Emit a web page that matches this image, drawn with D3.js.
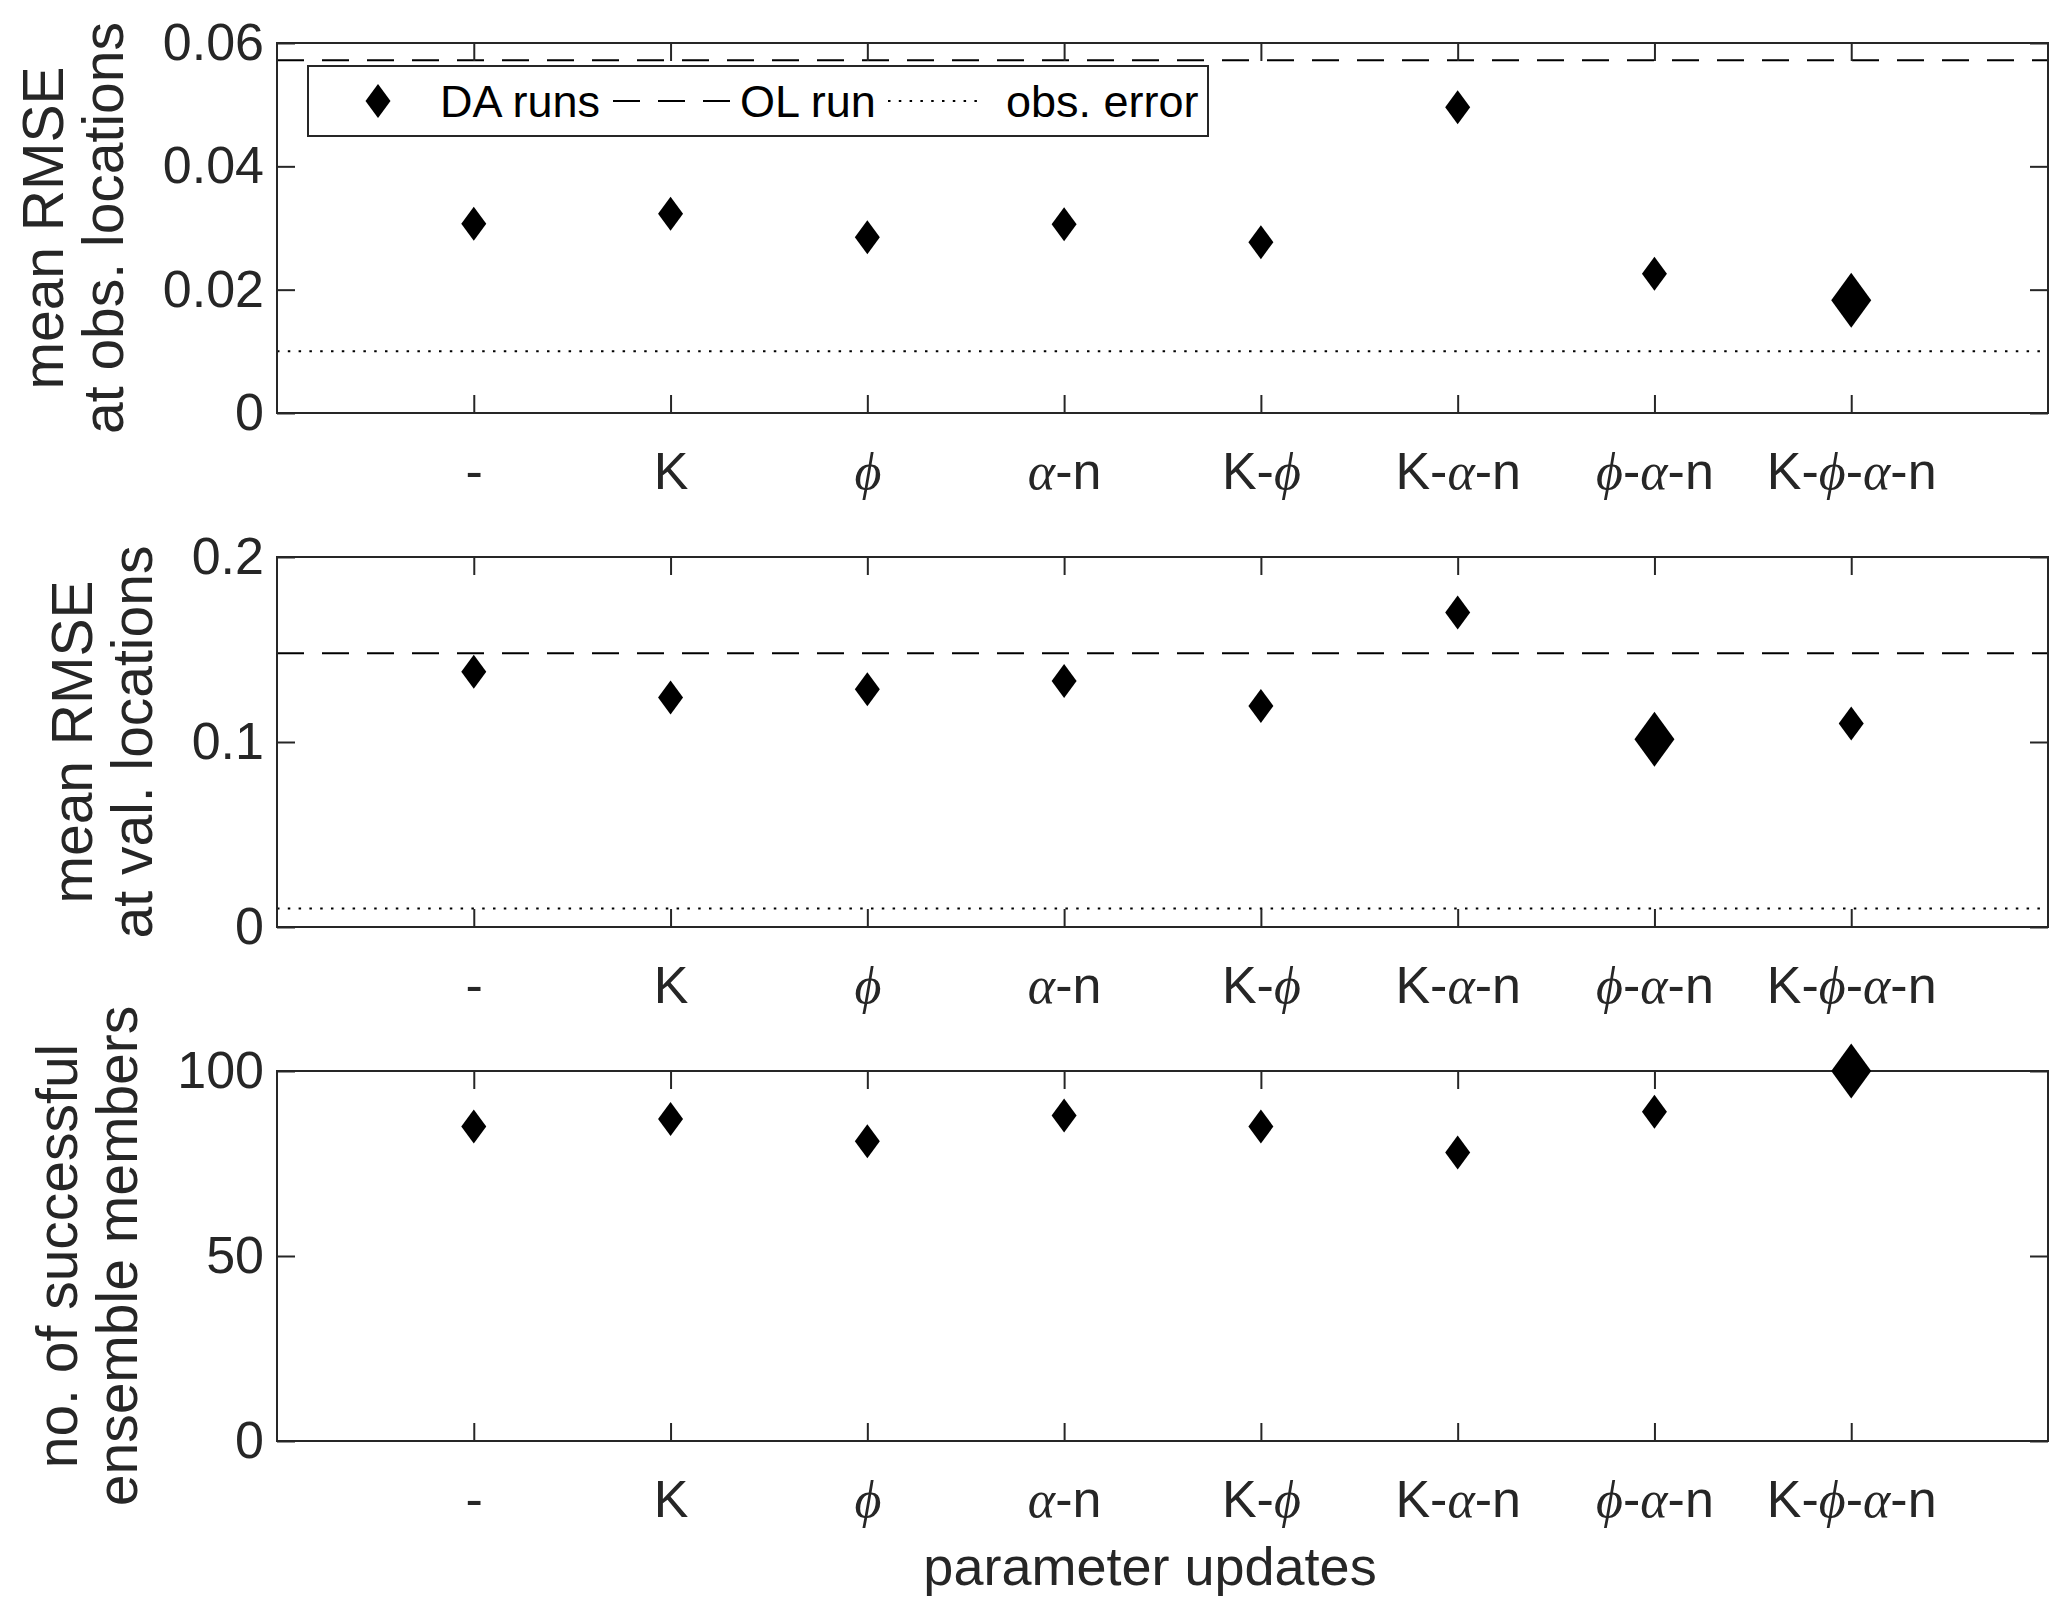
<!DOCTYPE html>
<html>
<head>
<meta charset="utf-8">
<script src="https://cdn.jsdelivr.net/npm/d3@7"></script>
<style>
  body { margin: 0; background: #fff; }
  text { font-family: 'Liberation Sans', Arial, Helvetica, sans-serif; fill: #262626; }
  .greek { font-family: 'Liberation Serif', 'DejaVu Serif', serif; font-style: italic; }
</style>
</head>
<body>
<svg id="chart" width="2067" height="1616"></svg>
<script>
// parameter update combinations (x categories)
const categories = ['-', 'K', 'ϕ', 'α-n', 'K-ϕ', 'K-α-n', 'ϕ-α-n', 'K-ϕ-α-n'];

// mean RMSE at observation locations
const rmseObs = [0.0307, 0.0323, 0.0285, 0.0306, 0.0277, 0.0496, 0.0226, 0.0183];
const olRunObs = 0.0572;
const obsErrorObs = 0.01;
const ticksObs = [0, 0.02, 0.04, 0.06];

// mean RMSE at validation locations
const rmseVal = [0.138, 0.124, 0.1285, 0.133, 0.1195, 0.170, 0.1015, 0.110];
const olRunVal = 0.148;
const obsErrorVal = 0.01;
const ticksVal = [0, 0.1, 0.2];

// no. of successful ensemble members
const nMembers = [85, 87, 81, 88, 85, 78, 89, 100];
const ticksMembers = [0, 50, 100];

const legendLabels = ['DA runs', 'OL run', 'obs. error'];
const xLabel = 'parameter updates';

function drawChart(){
  const svg = d3.select('#chart');

  const axisColor = '#262626';
  const tickFont = 52;
  const labelFont = 57;
  const tickLen = 18;

  const left = 277, right = 2048;
  const panelTops = [43, 557, 1071];
  const panelHeight = 370;

  const x = d3.scaleLinear()
              .domain([0, categories.length + 1])
              .range([left, right]);

  const panels = [
    { values: rmseObs, ol: olRunObs, err: obsErrorObs, ticks: ticksObs,
      label: ['mean RMSE', 'at obs. locations'], best: d3.minIndex(rmseObs), legend: true },
    { values: rmseVal, ol: olRunVal, err: obsErrorVal, ticks: ticksVal,
      label: ['mean RMSE', 'at val. locations'], best: d3.minIndex(rmseVal) },
    { values: nMembers, ticks: ticksMembers,
      label: ['no. of successful', 'ensemble members'], best: d3.maxIndex(nMembers) }
  ];

  // MATLAB-like diamond (taller than wide)
  const diamond = (w, h) => `M0,${-h/2}L${w/2},0L0,${h/2}L${-w/2},0Z`;

  // write a category label with italic greek letters
  function fillLabel(textSel, str){
    textSel.text(null);
    const parts = str.split(/([ϕα])/).filter(s => s.length);
    parts.forEach(p => {
      const t = textSel.append('tspan').text(p);
      if (p === 'ϕ' || p === 'α') t.attr('class', 'greek');
    });
  }

  panels.forEach((p, i) => {
    const top = panelTops[i];
    const bottom = top + panelHeight;
    const y = d3.scaleLinear()
                .domain([0, d3.max(p.ticks)])
                .range([bottom, top]);

    const g = svg.append('g').attr('class', 'panel');

    // reference lines
    if (p.ol !== undefined){
      g.append('line')
        .attr('x1', left).attr('x2', right)
        .attr('y1', y(p.ol)).attr('y2', y(p.ol))
        .attr('stroke', '#000').attr('stroke-width', 2)
        .attr('stroke-dasharray', '27,18');
    }
    if (p.err !== undefined){
      g.append('line')
        .attr('x1', left).attr('x2', right)
        .attr('y1', y(p.err)).attr('y2', y(p.err))
        .attr('stroke', '#000').attr('stroke-width', 2)
        .attr('stroke-dasharray', '2.5,8.3');
    }

    // axes with inward ticks on all sides
    const catTicks = d3.range(1, categories.length + 1);

    const xAxis = g.append('g')
        .attr('transform', `translate(0,${bottom})`)
        .call(d3.axisBottom(x).tickValues(catTicks).tickSize(-tickLen).tickPadding(39)
              .tickFormat(d => categories[d - 1]));
    xAxis.selectAll('text').each(function(d){ fillLabel(d3.select(this), categories[d - 1]); });

    g.append('g')
        .attr('transform', `translate(0,${top})`)
        .call(d3.axisTop(x).tickValues(catTicks).tickSize(-tickLen).tickFormat(''));

    const yAxis = g.append('g')
        .attr('transform', `translate(${left},0)`)
        .call(d3.axisLeft(y).tickValues(p.ticks).tickSize(-tickLen).tickPadding(13)
              .tickFormat(d => String(d)));

    g.append('g')
        .attr('transform', `translate(${right},0)`)
        .call(d3.axisRight(y).tickValues(p.ticks).tickSize(-tickLen).tickFormat(''));

    g.selectAll('.domain').remove();
    g.selectAll('.tick line').attr('stroke', axisColor).attr('stroke-width', 2);
    g.selectAll('.tick text')
      .attr('fill', axisColor)
      .style('font-size', tickFont + 'px')
      .attr('font-family', null);

    // box
    g.append('rect')
      .attr('x', left).attr('y', top)
      .attr('width', right - left).attr('height', panelHeight)
      .attr('fill', 'none')
      .attr('stroke', axisColor).attr('stroke-width', 2);

    // markers
    g.selectAll('path.da')
      .data(p.values)
      .enter()
      .append('path')
        .attr('class', 'da')
        .attr('transform', (d, j) => `translate(${x(j + 1)},${y(d)})`)
        .attr('d', (d, j) => j === p.best ? diamond(40, 55) : diamond(25, 34))
        .attr('fill', '#000');

    // y label, placed left of the widest tick label
    let tickW = 0;
    yAxis.selectAll('.tick text').each(function(){ tickW = Math.max(tickW, this.getBBox().width); });
    const base2 = left - 13 - tickW - 40;
    const base1 = base2 - 60;
    const cy = top + panelHeight / 2;
    [base1, base2].forEach((bx, k) => {
      svg.append('text')
        .text(p.label[k])
        .attr('transform', `translate(${bx},${cy}) rotate(-90)`)
        .style('font-size', labelFont + 'px')
        .style('text-anchor', 'middle');
    });

    // legend
    if (p.legend){
      const lg = g.append('g').attr('class', 'legend');
      lg.append('rect')
        .attr('x', 308).attr('y', 66)
        .attr('width', 900).attr('height', 70)
        .attr('fill', '#fff')
        .attr('stroke', axisColor).attr('stroke-width', 2);
      const ly = 101;
      lg.append('path')
        .attr('transform', `translate(378,${ly})`)
        .attr('d', diamond(25, 34))
        .attr('fill', '#000');
      lg.append('text').text(legendLabels[0])
        .attr('x', 440).attr('y', ly + 16)
        .style('font-size', '45px').style('fill', '#000');
      lg.append('line')
        .attr('x1', 613).attr('x2', 735).attr('y1', ly).attr('y2', ly)
        .attr('stroke', '#000').attr('stroke-width', 2)
        .attr('stroke-dasharray', '27,18');
      lg.append('text').text(legendLabels[1])
        .attr('x', 740).attr('y', ly + 16)
        .style('font-size', '45px').style('fill', '#000');
      lg.append('line')
        .attr('x1', 888).attr('x2', 983).attr('y1', ly).attr('y2', ly)
        .attr('stroke', '#000').attr('stroke-width', 2)
        .attr('stroke-dasharray', '2.5,8.3');
      lg.append('text').text(legendLabels[2])
        .attr('x', 1006).attr('y', ly + 16)
        .style('font-size', '45px').style('fill', '#000');
    }
  });

  // x axis title
  svg.append('text')
    .text(xLabel)
    .attr('x', 1150)
    .attr('y', 1585)
    .style('font-size', '54px')
    .style('text-anchor', 'middle');
}

drawChart();
</script>
</body>
</html>
